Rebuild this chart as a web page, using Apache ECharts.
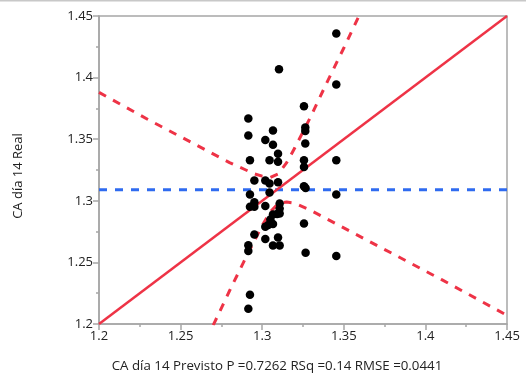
<!DOCTYPE html>
<html>
<head>
<meta charset="utf-8">
<script src="https://cdn.jsdelivr.net/npm/echarts@6/dist/echarts.min.js"></script>
<style>
  html, body { margin: 0; padding: 0; background: #fff; }
  #chart { width: 526px; height: 376px; }
</style>
</head>
<body>
<div id="chart"></div>
<script>
// Observed leverage points: predicted (x) and actual (y)
const predicted = [
  1.3454, 1.3103, 1.3454, 1.3256, 1.2915, 1.2915, 1.3066, 1.3264, 1.3264, 1.3019,
  1.3066, 1.3264, 1.3097, 1.2925, 1.3045, 1.3097, 1.3256, 1.3256, 1.3454, 1.2952,
  1.3019, 1.3045, 1.3097, 1.3256, 1.3266, 1.2925, 1.3045, 1.3454, 1.2952, 1.2952,
  1.2925, 1.3019, 1.3107, 1.3107, 1.3107, 1.3091, 1.3066, 1.3050, 1.3066, 1.3019,
  1.3037, 1.3256, 1.2952, 1.3019, 1.3097, 1.2915, 1.2915, 1.3066, 1.3107, 1.3266,
  1.3454, 1.2925, 1.2915
];
const actual = [
  1.4357, 1.4068, 1.3944, 1.3768, 1.3668, 1.3530, 1.3571, 1.3595, 1.3567, 1.3494,
  1.3454, 1.3465, 1.3381, 1.3330, 1.3330, 1.3316, 1.3330, 1.3275, 1.3330, 1.3165,
  1.3165, 1.3141, 1.3151, 1.3119, 1.3103, 1.3052, 1.3068, 1.3052, 1.2989, 1.2951,
  1.2951, 1.2957, 1.2979, 1.2938, 1.2897, 1.2892, 1.2889, 1.2849, 1.2811, 1.2789,
  1.2803, 1.2816, 1.2727, 1.2689, 1.2703, 1.2640, 1.2592, 1.2638, 1.2638, 1.2578,
  1.2551, 1.2237, 1.2124
];

// Fit line and mean of the response
const fitX = [1.2, 1.45];
const fitY = [1.2, 1.45];
const meanY = 1.309;

// Confidence curves around the fit
const upperX = [1.200, 1.230, 1.260, 1.280, 1.290, 1.295, 1.300, 1.305, 1.310, 1.315, 1.320, 1.330, 1.340, 1.350, 1.360];
const upperY = [1.388, 1.366, 1.345, 1.331, 1.325, 1.322, 1.320, 1.319, 1.322, 1.331, 1.343, 1.369, 1.397, 1.424, 1.452];
const lowerX = [1.270, 1.280, 1.290, 1.300, 1.305, 1.310, 1.315, 1.320, 1.330, 1.350, 1.380, 1.410, 1.450];
const lowerY = [1.199, 1.227, 1.254, 1.280, 1.291, 1.298, 1.299, 1.298, 1.292, 1.278, 1.257, 1.236, 1.207];

const xTicks = [1.2, 1.25, 1.3, 1.35, 1.4, 1.45];
const yTicks = [1.2, 1.25, 1.3, 1.35, 1.4, 1.45];

const xTitle = 'CA día 14 Previsto P =0.7262 RSq =0.14 RMSE =0.0441';
const yTitle = 'CA día 14 Real';

const zip = (a, b) => a.map((v, i) => [v, b[i]]);

const RED = '#ee3346';
const BLUE = '#2f6bf0';
const AXIS = '#a6a6a6';
const FONT = 'Open Sans';

const chart = echarts.init(document.getElementById('chart'), null, { renderer: 'canvas' });

const axisCommon = {
  interval: 0.05,
  axisLine: { show: true, onZero: false, lineStyle: { color: AXIS, width: 1.5 } },
  axisTick: { show: true, length: 6, lineStyle: { color: AXIS, width: 1.5 } },
  minorTick: { show: true, splitNumber: 2, length: 3, lineStyle: { color: AXIS, width: 1.5 } },
  splitLine: { show: false },
  axisLabel: {
    fontFamily: FONT, fontSize: 13, color: '#222', margin: 6,
    formatter: v => String(+v.toFixed(2))
  }
};

chart.setOption({
  animation: false,
  backgroundColor: '#fff',
  grid: {
    left: 99, right: 19, top: 16, bottom: 52,
    show: true, borderColor: AXIS, borderWidth: 1.5, backgroundColor: 'transparent'
  },
  graphic: [
    {
      type: 'line',
      shape: { x1: 0, y1: 0.5, x2: 526, y2: 0.5 },
      style: { stroke: '#c8c8c8', lineWidth: 2 }
    },
    {
      type: 'text', x: 277, y: 366,
      style: {
        text: xTitle, fontFamily: FONT, fontSize: 13.3, fill: '#222',
        textAlign: 'center', textVerticalAlign: 'middle'
      }
    },
    {
      type: 'text', x: 18, y: 176, rotation: Math.PI / 2,
      style: {
        text: yTitle, fontFamily: FONT, fontSize: 13, fill: '#222',
        textAlign: 'center', textVerticalAlign: 'middle'
      }
    }
  ],
  xAxis: Object.assign({}, axisCommon, {
    type: 'value', min: xTicks[0], max: xTicks[xTicks.length - 1]
  }),
  yAxis: Object.assign({}, axisCommon, {
    type: 'value', min: yTicks[0], max: yTicks[yTicks.length - 1]
  }),
  series: [
    {
      type: 'line', data: zip(upperX, upperY), showSymbol: false, clip: true,
      lineStyle: { color: RED, width: 3, type: [8, 8] }, z: 2
    },
    {
      type: 'line', data: zip(lowerX, lowerY), showSymbol: false, clip: true,
      lineStyle: { color: RED, width: 3, type: [8, 8] }, z: 2
    },
    {
      type: 'line', data: [[fitX[0], meanY], [fitX[1], meanY]], showSymbol: false,
      lineStyle: { color: BLUE, width: 3, type: [8, 8] }, z: 2
    },
    {
      type: 'line', data: zip(fitX, fitY), showSymbol: false,
      lineStyle: { color: RED, width: 2.5 }, z: 3
    },
    {
      type: 'scatter', data: zip(predicted, actual), symbolSize: 8.5,
      itemStyle: { color: '#000', opacity: 1 }, z: 4
    }
  ]
});
</script>
</body>
</html>
